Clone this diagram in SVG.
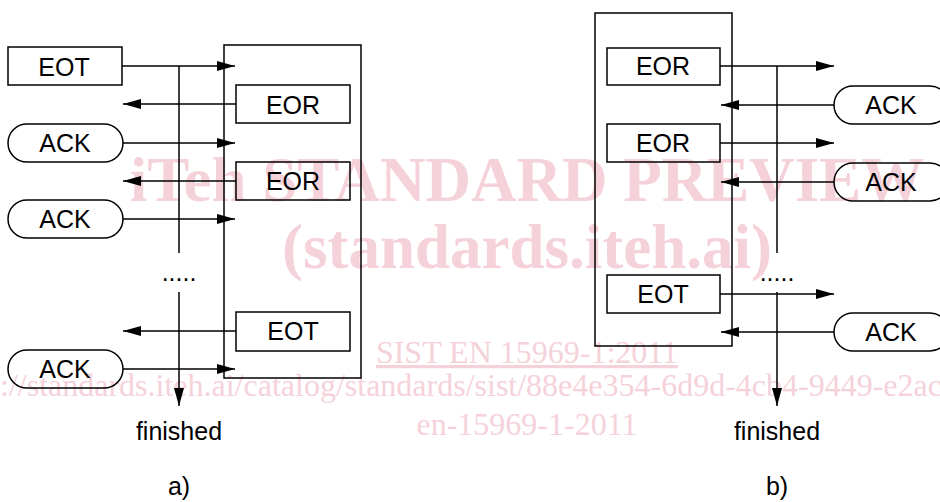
<svg xmlns="http://www.w3.org/2000/svg" width="940" height="502" viewBox="0 0 940 502">
<style>
.wm{font-family:"Liberation Serif","Times New Roman",serif;fill:#f5d2da}
.wmb{font-weight:bold;font-size:63px}
.wms{font-size:32px}
.box{fill:none;stroke:#000;stroke-width:1.5}
.frame{fill:none;stroke:#000;stroke-width:1.5}
.lbl{font-family:"Liberation Sans",Arial,sans-serif;font-size:25px;fill:#000;text-anchor:middle}
.ln{fill:none;stroke:#000;stroke-width:1.5}
.arr{fill:none;stroke:#000;stroke-width:1.5;marker-end:url(#ah)}
</style>
<defs>
<marker id="ah" markerUnits="userSpaceOnUse" markerWidth="18" markerHeight="10" refX="18" refY="5" orient="auto">
<path d="M0,0 L18,5 L0,10 z" fill="#000"/>
</marker>
</defs>
<rect width="940" height="502" fill="#fff"/>
<g id="watermark">
<text class="wm wmb" x="527" y="201" text-anchor="middle">iTeh STANDARD PREVIEW</text>
<text class="wm wmb" x="527" y="268" text-anchor="middle">(standards.iteh.ai)</text>
<text class="wm wms" x="527" y="363" text-anchor="middle" text-decoration="underline">SIST EN 15969-1:2011</text>
<text class="wm wms" x="0" y="396">://standards.iteh.ai/catalog/standards/sist/88e4e354-6d9d-4cb4-9449-e2ac</text>
<text class="wm wms" x="527" y="435" text-anchor="middle">en-15969-1-2011</text>
</g>
<g id="a-frame"><rect class="frame" x="224" y="45" width="137" height="333"/></g>
<g id="b-frame"><rect class="frame" x="595" y="13" width="137" height="333"/></g>
<g id="connectors">
<line class="arr" x1="122" y1="66" x2="235" y2="66"/>
<line class="arr" x1="236" y1="104" x2="123" y2="104"/>
<line class="arr" x1="123" y1="143" x2="235" y2="143"/>
<line class="arr" x1="236" y1="181" x2="123" y2="181"/>
<line class="arr" x1="123" y1="219" x2="235" y2="219"/>
<line class="arr" x1="236" y1="331" x2="123" y2="331"/>
<line class="arr" x1="123" y1="369" x2="235" y2="369"/>
<line class="ln" x1="179" y1="66" x2="179" y2="253"/>
<line class="arr" x1="179" y1="292" x2="179" y2="406"/>
<line class="arr" x1="720" y1="66" x2="834" y2="66"/>
<line class="arr" x1="834" y1="105" x2="721" y2="105"/>
<line class="arr" x1="720" y1="143" x2="834" y2="143"/>
<line class="arr" x1="834" y1="182" x2="721" y2="182"/>
<line class="arr" x1="720" y1="294" x2="834" y2="294"/>
<line class="arr" x1="834" y1="332" x2="721" y2="332"/>
<line class="ln" x1="777" y1="66" x2="777" y2="253"/>
<line class="arr" x1="777" y1="292" x2="777" y2="406"/>
</g>
<g id="a-eot1"><rect class="box" x="8" y="47" width="114" height="38"/><text class="lbl" x="64" y="76">EOT</text></g>
<g id="a-eor1"><rect class="box" x="236" y="85" width="114" height="38"/><text class="lbl" x="293" y="114">EOR</text></g>
<g id="a-ack1"><rect class="box" x="8" y="124" width="115" height="38" rx="19"/><text class="lbl" x="65" y="152">ACK</text></g>
<g id="a-eor2"><rect class="box" x="236" y="162" width="114" height="38"/><text class="lbl" x="293" y="190">EOR</text></g>
<g id="a-ack2"><rect class="box" x="8" y="200" width="115" height="38" rx="19"/><text class="lbl" x="65" y="228">ACK</text></g>
<g id="a-dots"><text class="lbl" x="179" y="281">.....</text></g>
<g id="a-eot2"><rect class="box" x="236" y="312" width="114" height="39"/><text class="lbl" x="293" y="340">EOT</text></g>
<g id="a-ack3"><rect class="box" x="8" y="350" width="115" height="38" rx="19"/><text class="lbl" x="65" y="378">ACK</text></g>
<g id="a-finished"><text class="lbl" x="179" y="440">finished</text></g>
<g id="a-label"><text class="lbl" x="179" y="495">a)</text></g>
<g id="b-eor1"><rect class="box" x="607" y="48" width="113" height="37"/><text class="lbl" x="663" y="75">EOR</text></g>
<g id="b-ack1"><rect class="box" x="834" y="86" width="115" height="38" rx="19"/><text class="lbl" x="891" y="114">ACK</text></g>
<g id="b-eor2"><rect class="box" x="607" y="124" width="113" height="38"/><text class="lbl" x="663" y="152">EOR</text></g>
<g id="b-ack2"><rect class="box" x="834" y="163" width="115" height="38" rx="19"/><text class="lbl" x="891" y="191">ACK</text></g>
<g id="b-dots"><text class="lbl" x="777" y="281">.....</text></g>
<g id="b-eot"><rect class="box" x="607" y="275" width="113" height="38"/><text class="lbl" x="663" y="303">EOT</text></g>
<g id="b-ack3"><rect class="box" x="834" y="313" width="115" height="38" rx="19"/><text class="lbl" x="891" y="341">ACK</text></g>
<g id="b-finished"><text class="lbl" x="777" y="440">finished</text></g>
<g id="b-label"><text class="lbl" x="777" y="495">b)</text></g>
</svg>
